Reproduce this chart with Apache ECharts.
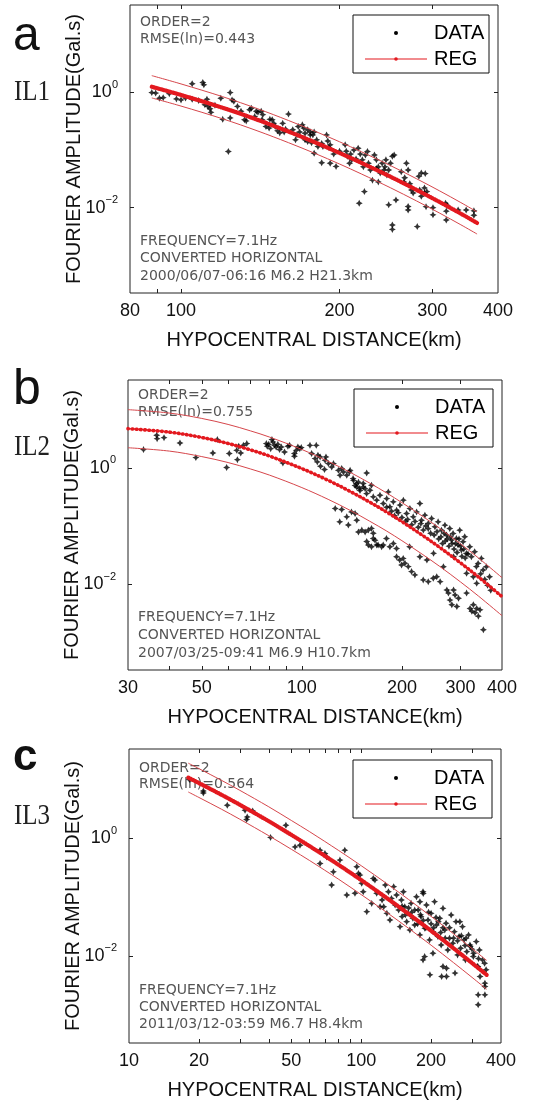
<!DOCTYPE html>
<html><head><meta charset="utf-8">
<script src="https://cdn.jsdelivr.net/npm/echarts@6/dist/echarts.min.js"></script>
<style>html,body{margin:0;padding:0;background:#fff}#c{width:533px;height:1102px}</style>
</head><body><div id="c"></div>
<script>
// ---------------- DATA ----------------
// Panel a (IL1): [distance km, Fourier amplitude Gal.s]
const dataA = [
[88,0.99],[91,0.79],[98,0.77],[89.5,0.97],[92.5,0.81],[105,1.41],[110,1.48],[110.5,1.35],[100,0.74],[105,0.76],
[112,0.76],[111,0.61],[112.5,0.57],[113.5,0.52],[114,0.45],[119,0.79],[120,0.34],[124,0.99],[125,0.74],[126,0.70],
[124,0.36],[123,0.094],[128,0.57],[132,0.334],[133,0.32],[130,0.47],[135,0.50],[136,0.53],[139,0.47],[140,0.45],
[142,0.47],[143,0.41],[142.5,0.334],[147.5,0.34],[149,0.334],[150,0.29],[151,0.256],[145,0.256],[147,0.24],[152.5,0.215],
[154,0.198],[156,0.29],[157,0.205],[160,0.42],[163,0.224],[166,0.183],[165,0.15],[167,0.256],[168,0.205],[171,0.24],
[172,0.195],[176,0.205],[178,0.183],[179,0.088],[181,0.15],[174,0.14],
[170,0.273],[174,0.224],[172,0.15],[176,0.183],[177,0.133],[179,0.205],[182,0.115],[185,0.060],[186,0.115],[189,0.183],
[190,0.143],[191,0.111],[192,0.123],[192,0.059],[197,0.052],[195,0.085],[205,0.123],[206,0.095],[207,0.078],[209,0.059],
[210,0.085],[211,0.0675],[213,0.10],[217,0.107],[219,0.085],[221,0.0675],[222,0.051],[224,0.082],[226,0.094],[227,0.059],
[229,0.045],[233,0.082],[235,0.0675],[237,0.051],[239,0.040],[241,0.059],[243,0.045],[244,0.051],[245,0.0675],[246,0.037],
[248,0.045],[250,0.059],[252,0.078],[254,0.082],[231,0.030],[237,0.028],[223,0.019],[218,0.0119],[248,0.0112],[256,0.0136],
[252,0.0050],[252,0.0042],[262,0.042],[266,0.033],[268,0.059],[270,0.045],[272,0.026],[270,0.0105],[270,0.0091],[274,0.0203],
[276,0.018],[281,0.0047],[283,0.035],[286,0.040],[291,0.039],[284,0.0203],[286,0.0158],[290,0.022],[293,0.019],[292,0.0104],
[301,0.0100],[301,0.0075],[318,0.0119],[319,0.0087],[319,0.0061],[336,0.0091],[348,0.0091],[360,0.0088],[360,0.0074],
[95,0.95],[102,0.8],[108,0.72],[116,0.6],[138,0.38],[158,0.23],[185,0.13],[200,0.095],[215,0.07],[235,0.048],[265,0.028],[290,0.018],[320,0.011]
];
const regDistA = [88,100,120,140,160,180,200,220,250,280,310,340,365];
const regA   = [1.25,0.90,0.54,0.332,0.209,0.135,0.089,0.060,0.0344,0.0204,0.0125,0.00787,0.00543];
const regUpA = [1.95,1.40,0.84,0.517,0.325,0.210,0.139,0.0934,0.0536,0.0318,0.0195,0.01225,0.00845];
const regLoA = [0.80,0.578,0.347,0.213,0.134,0.0867,0.0572,0.0385,0.0221,0.0131,0.00803,0.00505,0.00349];

// Panel b (IL2)
const dataB = [
[33.4,2.07],[36.6,3.65],[36.7,3.2],[38.5,3.33],[43,2.69],[48,1.51],[54,1.81],[55.7,3.08],[59.4,1.02],[60.5,1.77],
[63.7,2.01],[64,1.39],[66.7,2.45],[68.3,2.63],[64.6,2.36],[65.5,1.81],
[78.2,2.63],[78.7,2.36],[79.5,2.55],[80.6,2.15],[81.3,3.08],[81.9,2.8],[82.8,2.45],[83.7,2.30],[84.7,2.55],[85.7,2.07],
[86.7,2.30],[87.7,1.22],[88.7,1.88],[90.8,2.36],[91.9,2.45],
[95,1.77],[96.2,2.01],[97.3,2.30],[98.6,2.15],[99.6,2.24],[95,1.59],
[105.8,2.45],[107,1.77],[109.6,1.45],[110.5,2.45],[111.8,1.66],[111.3,1.27],[113.5,1.55],[113.8,1.07],[117,0.94],[117.5,1.36],
[118.2,1.55],[120.2,1.19],[123,1.04],[124.5,1.19],
[128.8,0.91],[130.3,0.75],[131.8,0.98],[133.4,0.85],[136.5,0.75],[139.7,0.91],[143,0.61],[144.6,0.50],[146.3,0.47],[148,0.57],
[149.6,0.41],[153,0.54],[155,0.44],[156.7,0.82],
[126,0.20],[130,0.118],[136.5,0.144],[138,0.104],[141,0.175],[148,0.079],[151.5,0.085],[156.7,0.054],[158.5,0.047],[162,0.044],
[164,0.061],[169.6,0.047],[175.7,0.047],[179.7,0.061],[184,0.044],[188.5,0.050],
[131.8,0.193],[144.6,0.164],[146.3,0.126],[155,0.079],[158.5,0.085],[162,0.091],[164,0.075],[166,0.057],[168,0.047],[173.8,0.044],[192.7,0.041],
[192.7,0.0296],[197,0.026],[201.8,0.0277],[199.5,0.0213],[204.2,0.0228],[209,0.02],[213.8,0.0164],[218.8,0.0144],
[231.8,0.0118],[240,0.011],[248.5,0.0126],[254.5,0.0134],[260.6,0.011],[273,0.0079],[276,0.0070],[279,0.0053],[282.6,0.0044],[286,0.0079],
[289,0.0065],[292.6,0.0041],[296,0.0057],
[313,0.007],[320.6,0.0038],[324.6,0.0034],[328,0.0044],[332,0.0032],[335.7,0.0038],[339.6,0.0028],[343.6,0.0036],[351.6,0.00163],
[211,0.044],[226.5,0.0296],[237.8,0.026],[249,0.0338],[266.6,0.0199],[286,0.0296],[313,0.0153],[328,0.0134],[335.7,0.0103],
[345,0.015],[355,0.012],[362,0.0095],[370,0.0078],[335,0.02],
[139,0.853],[142.6,0.656],[146,0.538],[149.3,0.442],[153,0.472],[156.6,0.362],[160.3,0.413],[162,0.504],[164,0.318],[168,0.279],
[171.8,0.339],[175.8,0.244],[180,0.297],[182,0.387],[184,0.214],[188.4,0.261],[192.8,0.1875],[197.3,0.229],[202,0.279],[206.6,0.164],
[211.4,0.2],[216.3,0.144],[221.4,0.175],[226.5,0.244],[229,0.126],[234.5,0.154],[240,0.111],[245.6,0.135],[251.4,0.0969],[257,0.118],
[263,0.0849],[269.4,0.1035],[272.5,0.0697],[278.6,0.0908],[282,0.0572],[285,0.0745],[291.7,0.0611],[295,0.0469],[298.5,0.0849],[302,0.0385],
[305.5,0.0536],[309,0.0653],[312.6,0.0337],[320,0.044],[323.6,0.0296],[331,0.036],[339,0.0227],[346.7,0.0277],[351,0.0175],[359,0.0199],[367,0.0134],
[250,0.07],[255,0.08],[258,0.06],[262,0.065],[265,0.05],[268,0.075],[270,0.055],[274,0.06],[277,0.045],[280,0.065],
[283,0.05],[287,0.04],[290,0.05],[293,0.035],[297,0.06],[300,0.045],[303,0.03],[307,0.04],[310,0.028],[316,0.033],
[240,0.09],[244,0.075],[236,0.1],[232,0.085],[228,0.11],[224,0.095],[219,0.12],[214,0.105],[208,0.13],
[180,0.21],[186,0.18],[190,0.15],[195,0.17],[200,0.14],[205,0.12]
];
const regDistB = [30,40,50,60,70,80,100,120,140,160,180,200,230,260,300,340,400];
const regB   = [4.75,4.14,3.35,2.64,2.05,1.60,0.977,0.612,0.393,0.258,0.174,0.119,0.0698,0.0427,0.0232,0.0132,0.00608];
const regUpB = [10.1,8.81,7.13,5.62,4.36,3.40,2.08,1.30,0.836,0.549,0.370,0.253,0.149,0.0909,0.0494,0.0281,0.0129];
const regLoB = [2.23,1.95,1.57,1.24,0.963,0.752,0.459,0.288,0.185,0.121,0.0818,0.0559,0.0328,0.0201,0.0109,0.0062,0.00286];

// Panel c (IL3)
const dataC = [
[18.2,9.9],[20.9,6.34],[20.9,5.86],[26.5,3.62],[31.6,2.98],[32.1,2.08],[32.3,2.3],[34.1,2.9],[40.7,1.03],[47.4,1.66],
[51.9,0.71],[54.5,0.76],[66.5,0.626],[69.8,0.55],[71,0.48],[66.5,0.372],[74.6,0.16],[81,0.424],[85,0.626],[75.9,0.268],
[86.7,0.108],[95.7,0.327],[97.3,0.252],[98.8,0.236],[94,0.116],[100.5,0.171],[102,0.123],[105.7,0.0564],[111,0.078],[112.7,0.207],
[114.6,0.194],[116.6,0.116],[120.6,0.0685],
[123,0.089],[125,0.0685],[127,0.16],[129,0.0528],[131,0.123],[133,0.0407],[135,0.0948],[138,0.15],[140,0.073],[142,0.108],
[145,0.0603],[147,0.0314],[150,0.0465],
[149,0.089],[152,0.123],[154,0.0686],[157,0.0382],[159,0.0528],[162,0.0276],[164,0.0782],[167,0.0435],[170,0.0335],[173,0.101],
[176,0.0603],[179,0.0227],[181,0.0464],[185,0.115],[188,0.0294],[191,0.0731],[194,0.0407],[197,0.0187],[200,0.0528],[204,0.0258],
[207,0.0834],[211,0.0335],[214,0.0213],[218,0.0435],[221,0.0153],[225,0.0643],[229,0.0276],[232,0.0358],[236,0.0126],[240,0.0199],
[244,0.0495],[248,0.0164],[252,0.0258],[256,0.0382],[260,0.0104],[264,0.0213],[268,0.0135],[273,0.0314],[277,0.0187],[281,0.00855],
[285,0.0118],[290,0.0227],[294,0.0153],[304,0.00975],[313,0.0175],[318,0.00659],[323,0.0126],[333,0.00855],
[316,0.0066],[325,0.00446],[341,0.00344],[341,0.00302],[319,0.00218],[341,0.00218],[319,0.00148],
[197.7,0.00476],[222,0.00446],[233,0.00446],[253.5,0.0051],[184.6,0.00855],[187.6,0.00973],[203.7,0.0111],[225,0.0066],[233,0.00617],
[184.6,0.123],[179,0.083],[266,0.038],[283,0.02],[295,0.0144],[305,0.0111],
[150,0.07],[155,0.05],[160,0.065],[165,0.055],[170,0.06],[175,0.035],[180,0.05],[185,0.04],[190,0.03],[195,0.055],
[200,0.035],[205,0.03],[210,0.045],[215,0.038],[220,0.025],[225,0.03],[230,0.02],[240,0.03],[250,0.02],[260,0.018],
[270,0.022],[280,0.015],[300,0.013],[320,0.009],[340,0.0075],[345,0.0058]
];
const regDistC = [18,20,25,30,40,50,60,80,100,130,160,200,250,300,347];
const regC   = [10.7,8.65,5.47,3.70,1.94,1.14,0.731,0.351,0.194,0.0938,0.0516,0.0267,0.01346,0.00759,0.00476];
const regUpC = [18.8,15.2,9.62,6.50,3.41,2.00,1.285,0.617,0.341,0.165,0.0907,0.0469,0.0237,0.01334,0.00837];
const regLoC = [6.09,4.92,3.11,2.10,1.10,0.648,0.416,0.200,0.110,0.0534,0.0294,0.0152,0.00766,0.00432,0.00271];

// Axis ticks / labels
const xLabelsA = [80,100,200,300,400];
const xTicksA  = [90,100,200,300];
const xLabelsB = [30,50,100,200,300,400];
const xTicksB  = [40,50,60,70,80,90,100,200,300];
const xLabelsC = [10,20,50,100,200,400];
const xTicksC  = [20,30,40,50,60,70,80,90,100,200,300];
const yTickVals = [0.01,1];
const xRangeA = [80,400], xRangeB = [30,400], xRangeC = [10,400];
const yRange = [Math.pow(10,-3.48), Math.pow(10,1.515)];

const infoA = ['ORDER=2','RMSE(ln)=0.443','FREQUENCY=7.1Hz','CONVERTED HORIZONTAL','2000/06/07-06:16 M6.2 H21.3km'];
const infoB = ['ORDER=2','RMSE(ln)=0.755','FREQUENCY=7.1Hz','CONVERTED HORIZONTAL','2007/03/25-09:41 M6.9 H10.7km'];
const infoC = ['ORDER=2','RMSE(ln)=0.564','FREQUENCY=7.1Hz','CONVERTED HORIZONTAL','2011/03/12-03:59 M6.7 H8.4km'];

// ---------------- CHART ----------------
const zip = (xs, ys) => xs.map((x, i) => [x, ys[i]]);
const FONT = '"Liberation Sans", Arial, sans-serif';
const RED = '#e3191f';
const BAND = '#d6464b';
const STAR = 'path://M5,0 L6.7,3.3 L10,5 L6.7,6.7 L5,10 L3.3,6.7 L0,5 L3.3,3.3 Z';

const grids = [
  {left:130, top:5, width:368, height:288},
  {left:128, top:380, width:374, height:290},
  {left:129, top:749, width:372, height:294}
];
const panels = [
  {data:dataA, rd:regDistA, r:regA, up:regUpA, lo:regLoA, xr:xRangeA, xl:xLabelsA, xt:xTicksA, dash:[1,1.4], bw:4.2},
  {data:dataB, rd:regDistB, r:regB, up:regUpB, lo:regLoB, xr:xRangeB, xl:xLabelsB, xt:xTicksB, dash:[0.6,3.6], bw:3.6},
  {data:dataC, rd:regDistC, r:regC, up:regUpC, lo:regLoC, xr:xRangeC, xl:xLabelsC, xt:xTicksC, dash:[1,1.4], bw:4.2}
];

const xAxis = [], yAxis = [], series = [];
const tickStyle = {inside:true, length:4, lineStyle:{color:'#222', width:1}};
panels.forEach((p, i) => {
  xAxis.push({
    gridIndex:i, type:'log', logBase:10, min:p.xr[0], max:p.xr[1], position:'bottom',
    axisLine:{show:false}, splitLine:{show:false},
    axisTick:Object.assign({customValues:p.xt}, tickStyle),
    axisLabel:{customValues:p.xl, fontSize:18, color:'#111', fontFamily:FONT, margin:9, showMinLabel:true, showMaxLabel:true},
    name:'HYPOCENTRAL DISTANCE(km)', nameLocation:'middle', nameGap:37, nameMoveOverlap:false,
    nameTextStyle:{fontSize:20, color:'#111', fontFamily:FONT}
  });
  xAxis.push({
    gridIndex:i, type:'log', logBase:10, min:p.xr[0], max:p.xr[1], position:'top',
    axisLine:{show:false}, splitLine:{show:false}, axisLabel:{show:false},
    axisTick:Object.assign({customValues:p.xt}, tickStyle)
  });
  yAxis.push({
    gridIndex:i, type:'log', logBase:10, min:yRange[0], max:yRange[1], position:'left',
    axisLine:{show:false}, splitLine:{show:false},
    axisTick:Object.assign({customValues:yTickVals}, tickStyle),
    axisLabel:{customValues:yTickVals, margin:12, fontFamily:FONT,
      formatter: v => v >= 1 ? '{b|10}{s|0}' : '{b|10}{s|−2}',
      rich:{b:{fontSize:18, color:'#111', fontFamily:FONT, lineHeight:26, verticalAlign:'middle'},
            s:{fontSize:11, color:'#111', fontFamily:FONT, lineHeight:12, verticalAlign:'top'}}},
    name:'FOURIER AMPLITUDE(Gal.s)', nameLocation:'middle', nameGap:46, nameMoveOverlap:false,
    nameTextStyle:{fontSize:20, color:'#111', fontFamily:FONT}
  });
  yAxis.push({
    gridIndex:i, type:'log', logBase:10, min:yRange[0], max:yRange[1], position:'right',
    axisLine:{show:false}, splitLine:{show:false}, axisLabel:{show:false},
    axisTick:Object.assign({customValues:yTickVals}, tickStyle)
  });
  const xi = i*2, yi = i*2;
  series.push({type:'scatter', xAxisIndex:xi, yAxisIndex:yi, data:p.data, symbol:STAR, symbolSize:7,
    itemStyle:{color:'#000'}, z:2, silent:true});
  [p.up, p.lo].forEach(b => series.push({type:'line', xAxisIndex:xi, yAxisIndex:yi, data:zip(p.rd,b),
    showSymbol:false, smooth:0.35, lineStyle:{color:BAND, width:1}, z:3, silent:true}));
  series.push({type:'line', xAxisIndex:xi, yAxisIndex:yi, data:zip(p.rd,p.r), showSymbol:false, smooth:0.35,
    lineStyle:{color:RED, width:1.4}, z:4, silent:true});
  series.push({type:'line', xAxisIndex:xi, yAxisIndex:yi, data:zip(p.rd,p.r), showSymbol:false, smooth:0.35,
    lineStyle:{color:RED, width:p.bw, type:p.dash, cap:'round'}, z:5, silent:true});
});

// ---------------- GRAPHICS (panel letters, annotations, legends) ----------------
const graphic = [];
function txt(x, y, text, font) {
  graphic.push({type:'text', x:x, y:y, z:1,
    style:{text:text, font:font, fill:'#111', textAlign:'left', textVerticalAlign:'middle'}});
}
txt(13, 37, 'a', '48px ' + FONT);
txt(13, 390, 'b', '50px ' + FONT);
txt(13, 758, 'c', 'bold 44px ' + FONT);
[[92.5,'IL1'],[447.5,'IL2'],[816.5,'IL3']].forEach(([y,t]) =>
  graphic.push({type:'text', x:14, y:y, scaleX:0.86, z:1,
    style:{text:t, font:'29px "Liberation Serif", serif', fill:'#222', textAlign:'left', textVerticalAlign:'middle'}}));

const infos = [infoA, infoB, infoC];
const annTop = [[22,39],[395,412],[768,784]];
const annBot = [[241,258,276],[617,635,653],[990,1007,1024]];
const annX = [140,138,139];
const AFONT = '14px "DejaVu Sans", sans-serif';
infos.forEach((inf, i) => {
  const ys = [annTop[i][0], annTop[i][1], annBot[i][0], annBot[i][1], annBot[i][2]];
  ys.forEach((y, k) => graphic.push({type:'text', x:annX[i], y:y, z:0,
    style:{text:inf[k], font:AFONT, fill:'#555', textVerticalAlign:'middle'}}));
});

const legends = [{x:353,y:15,w:136,h:58},{x:354,y:389,w:139,h:58},{x:353,y:760,w:139,h:58}];
legends.forEach(L => {
  const yD = L.y + 18, yR = L.y + 44;
  graphic.push({type:'rect', z:50, shape:{x:L.x, y:L.y, width:L.w, height:L.h}, style:{fill:'#fff', stroke:'#111', lineWidth:1}});
  graphic.push({type:'circle', z:51, shape:{cx:L.x+43, cy:yD, r:2}, style:{fill:'#000'}});
  graphic.push({type:'line', z:51, shape:{x1:L.x+12, y1:yR, x2:L.x+74, y2:yR}, style:{stroke:RED, lineWidth:1.2}});
  graphic.push({type:'circle', z:52, shape:{cx:L.x+43, cy:yR, r:1.8}, style:{fill:RED}});
  graphic.push({type:'text', z:52, x:L.x+81, y:yD, style:{text:'DATA', font:'20px ' + FONT, fill:'#000', textVerticalAlign:'middle'}});
  graphic.push({type:'text', z:52, x:L.x+81, y:yR, style:{text:'REG', font:'20px ' + FONT, fill:'#000', textVerticalAlign:'middle'}});
});

const chart = echarts.init(document.getElementById('c'), null, {renderer:'canvas'});
chart.setOption({
  animation:false, backgroundColor:'#fff',
  grid: grids.map(g => Object.assign({show:true, borderColor:'#222', borderWidth:1, backgroundColor:'transparent'}, g)),
  xAxis, yAxis, series, graphic
});
</script></body></html>
